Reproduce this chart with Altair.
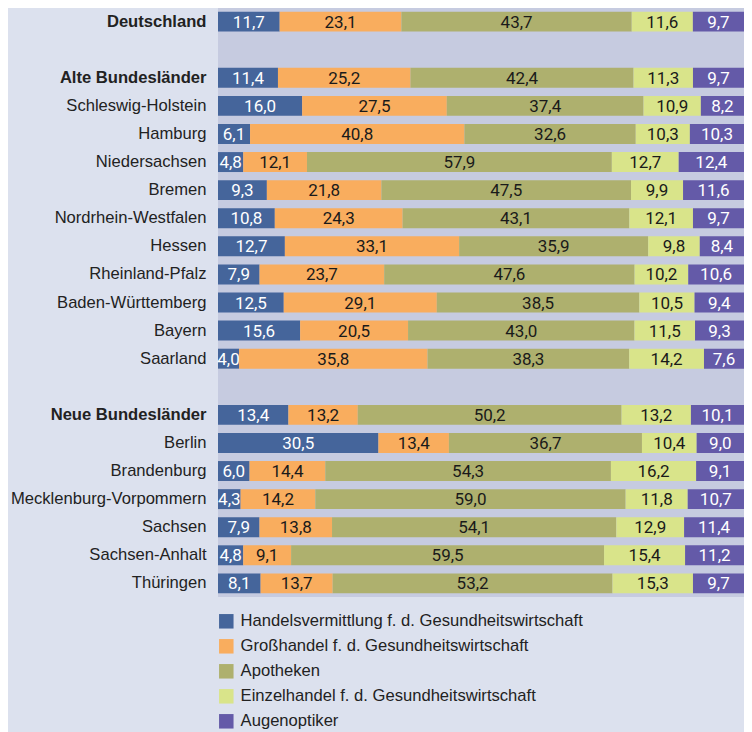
import altair as alt
import pandas as pd

regions = ["Deutschland", "Alte Bundesländer", "Schleswig-Holstein", "Hamburg",
           "Niedersachsen", "Bremen", "Nordrhein-Westfalen", "Hessen",
           "Rheinland-Pfalz", "Baden-Württemberg", "Bayern", "Saarland",
           "Neue Bundesländer", "Berlin", "Brandenburg", "Mecklenburg-Vorpommern",
           "Sachsen", "Sachsen-Anhalt", "Thüringen"]
row_order = ["Deutschland", "_gap1", "Alte Bundesländer", "Schleswig-Holstein", "Hamburg",
             "Niedersachsen", "Bremen", "Nordrhein-Westfalen", "Hessen",
             "Rheinland-Pfalz", "Baden-Württemberg", "Bayern", "Saarland", "_gap2",
             "Neue Bundesländer", "Berlin", "Brandenburg", "Mecklenburg-Vorpommern",
             "Sachsen", "Sachsen-Anhalt", "Thüringen"]

segments = ["Handelsvermittlung f. d. Gesundheitswirtschaft",
            "Großhandel f. d. Gesundheitswirtschaft",
            "Apotheken",
            "Einzelhandel f. d. Gesundheitswirtschaft",
            "Augenoptiker"]
colors = ["#45659b", "#f9ad5e", "#aeb06e", "#d9e48a", "#645aa8"]

handelsvermittlung = [11.7, 11.4, 16.0, 6.1, 4.8, 9.3, 10.8, 12.7, 7.9, 12.5, 15.6, 4.0,
                      13.4, 30.5, 6.0, 4.3, 7.9, 4.8, 8.1]
grosshandel = [23.1, 25.2, 27.5, 40.8, 12.1, 21.8, 24.3, 33.1, 23.7, 29.1, 20.5, 35.8,
               13.2, 13.4, 14.4, 14.2, 13.8, 9.1, 13.7]
apotheken = [43.7, 42.4, 37.4, 32.6, 57.9, 47.5, 43.1, 35.9, 47.6, 38.5, 43.0, 38.3,
             50.2, 36.7, 54.3, 59.0, 54.1, 59.5, 53.2]
einzelhandel = [11.6, 11.3, 10.9, 10.3, 12.7, 9.9, 12.1, 9.8, 10.2, 10.5, 11.5, 14.2,
                13.2, 10.4, 16.2, 11.8, 12.9, 15.4, 15.3]
augenoptiker = [9.7, 9.7, 8.2, 10.3, 12.4, 11.6, 9.7, 8.4, 10.6, 9.4, 9.3, 7.6,
                10.1, 9.0, 9.1, 10.7, 11.4, 11.2, 9.7]

series = [handelsvermittlung, grosshandel, apotheken, einzelhandel, augenoptiker]
records = []
for si, (seg, vals) in enumerate(zip(segments, series)):
    for region, v in zip(regions, vals):
        records.append({"region": region, "segment": seg, "order": si, "value": v})
df = pd.DataFrame(records)

LABEL_FONT = "Liberation Sans"
NUM_FONT = "Roboto"

base = alt.Chart(df).transform_stack(
    stack="value", groupby=["region"], as_=["x0", "x1"],
    sort=[alt.SortField("order", order="ascending")], offset="normalize"
).transform_calculate(
    mid="(datum.x0 + datum.x1) / 2",
    label="replace(format(datum.value, '.1f'), '.', ',')"
)

yenc = alt.Y("region:N", sort=row_order,
             scale=alt.Scale(domain=row_order, paddingInner=0.29, paddingOuter=0.13),
             axis=alt.Axis(title=None, domain=False, ticks=False, labelPadding=12,
                           labelFont=LABEL_FONT, labelFontSize=16.6, labelColor="#222222",
                           labelLimit=300,
                           labelExpr="indexof(datum.value, '_gap') == 0 ? '' : datum.value",
                           labelFontWeight=alt.condition(
                               "datum.value == 'Deutschland' || datum.value == 'Alte Bundesländer' || datum.value == 'Neue Bundesländer'",
                               alt.value("bold"), alt.value("normal"))))

bars = base.mark_bar().encode(
    x=alt.X("x0:Q", axis=None, scale=alt.Scale(domain=[0, 1], nice=False, zero=True)),
    x2="x1:Q",
    y=yenc,
    color=alt.Color("segment:N", scale=alt.Scale(domain=segments, range=colors),
                    legend=alt.Legend(title=None, orient="none", legendX=0, legendY=605,
                                      direction="vertical", symbolType="square",
                                      symbolSize=210, symbolStrokeWidth=0,
                                      symbolOpacity=1,
                                      labelFont=LABEL_FONT, labelFontSize=16.6,
                                      labelColor="#222222", labelOffset=6,
                                      rowPadding=8, labelLimit=500)),
    order=alt.Order("order:Q")
)

texts = base.mark_text(font=NUM_FONT, fontSize=17, baseline="middle", align="center", dy=1).encode(
    x=alt.X("mid:Q", scale=alt.Scale(domain=[0, 1], nice=False, zero=True)),
    y=alt.Y("region:N", sort=row_order),
    text="label:N",
    color=alt.condition("datum.order == 0 || datum.order == 4",
                        alt.value("#ffffff"), alt.value("#1a1a1a"))
)

chart = alt.layer(bars, texts).properties(
    width=526, height=589,
    background="#dce1ee",
    autosize=alt.AutoSizeParams(type="none"),
    padding={"left": 210, "top": 0, "right": 0, "bottom": 135}
).configure_view(fill="#c6cbe0", stroke=None)

chart.save("out.html", embed_options={"renderer": "svg", "actions": False})
